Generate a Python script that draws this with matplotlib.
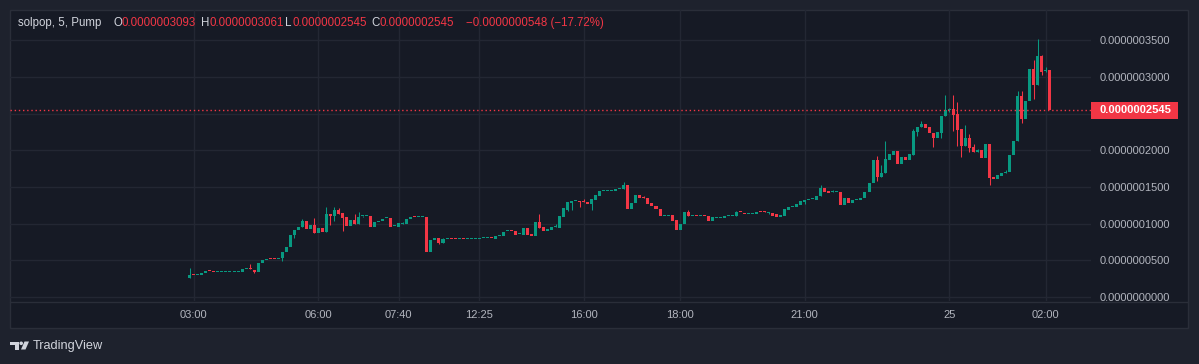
import matplotlib
matplotlib.use("Agg")
import matplotlib.pyplot as plt
from matplotlib.patches import Rectangle, Polygon, Circle
from matplotlib.ticker import FixedLocator, FuncFormatter

# ---------------- data (prices in units of 1e-7) ----------------
opens = [
    .265, .302, .30, .30, .33, .362, .355, .335, .335, .335,
    .335, .335, .335, .337, .377, .379, .37, .345, .46, .50,
    .515, .515, .512, .53, .61, .68, .85, .91, .95, 1.035,
    .93, .98, .87, .94, .885, 1.13, 1.11, 1.185, 1.145, 1.09,
    .97, 1.05, .995, 1.097, 1.10, 1.10, .955, 1.025, 1.03, 1.072,
    1.076, .965, .955, 1.0, .995, 1.06, 1.088, 1.085, 1.085, 1.09,
    .61, .775, .80, .74, .788, .79, .79, .788, .79, .788,
    .788, .788, .788, .798, .798, .80, .785, .83, .825, .893,
    .895, .90, .853, .845, .94, .86, .83, 1.02, .955, .90,
    .915, .952, .94, 1.09, 1.19, 1.28, 1.308, 1.31, 1.305, 1.29,
    1.27, 1.325, 1.38, 1.443, 1.443, 1.443, 1.44, 1.468, 1.465, 1.525,
    1.20, 1.28, 1.39, 1.355, 1.35, 1.28, 1.245, 1.205, 1.108, 1.108,
    1.115, 1.045, .91, .99, 1.16, 1.108, 1.11, 1.108, 1.11, 1.11,
    1.04, 1.083, 1.083, 1.083, 1.108, 1.108, 1.11, 1.157, 1.145, 1.125,
    1.125, 1.125, 1.157, 1.157, 1.143, 1.145, 1.13, 1.09, 1.10, 1.19,
    1.223, 1.225, 1.26, 1.30, 1.318, 1.333, 1.325, 1.37, 1.49, 1.45,
    1.428, 1.428, 1.435, 1.25, 1.35, 1.28, 1.318, 1.315, 1.345, 1.43,
    1.55, 1.87, 1.64, 1.685, 1.87, 1.94, 1.99, 1.815, 1.91, 1.865,
    1.94, 2.25, 2.31, 2.36, 2.32, 2.24, 2.17, 2.24, 2.46, 2.548,
    2.56, 2.49, 2.29, 2.06, 2.17, 2.04, 1.975, 2.00, 1.89, 2.08,
    1.635, 1.61, 1.65, 1.69, 1.70, 1.93, 2.12, 2.74, 2.425, 2.67,
    3.105, 2.89, 3.28, 3.085, 3.093,
]
closes = [
    .30, .30, .302, .33, .36, .36, .335, .337, .337, .337,
    .337, .337, .337, .378, .379, .377, .345, .46, .50, .52,
    .513, .512, .535, .61, .68, .85, .91, .95, 1.035, .93,
    .98, .87, .94, .885, 1.13, 1.11, 1.185, 1.13, 1.08, .97,
    1.05, .995, 1.094, 1.10, 1.102, .96, 1.02, 1.03, 1.06, 1.076,
    .96, .968, 1.01, 1.003, 1.06, 1.09, 1.085, 1.088, 1.088, .61,
    .78, .80, .74, .79, .79, .788, .788, .79, .788, .79,
    .79, .79, .79, .80, .80, .798, .83, .832, .885, .895,
    .893, .845, .855, .94, .845, .83, 1.02, .935, .90, .925,
    .955, .955, 1.10, 1.21, 1.29, 1.31, 1.31, 1.30, 1.297, 1.27,
    1.335, 1.39, 1.445, 1.446, 1.446, 1.446, 1.47, 1.47, 1.525, 1.20,
    1.28, 1.39, 1.35, 1.345, 1.27, 1.24, 1.20, 1.11, 1.11, 1.11,
    1.04, .91, .995, 1.16, 1.105, 1.11, 1.108, 1.11, 1.108, 1.035,
    1.085, 1.086, 1.086, 1.10, 1.11, 1.11, 1.155, 1.154, 1.125, 1.128,
    1.128, 1.155, 1.154, 1.154, 1.146, 1.11, 1.09, 1.12, 1.20, 1.225,
    1.226, 1.27, 1.31, 1.325, 1.32, 1.336, 1.38, 1.49, 1.43, 1.42,
    1.431, 1.431, 1.25, 1.35, 1.28, 1.32, 1.321, 1.35, 1.435, 1.555,
    1.87, 1.64, 1.685, 1.88, 1.95, 1.99, 1.815, 1.91, 1.865, 1.95,
    2.26, 2.32, 2.36, 2.30, 2.235, 2.17, 2.25, 2.47, 2.55, 2.552,
    2.48, 2.275, 2.06, 2.17, 2.03, 1.975, 2.00, 1.89, 2.08, 1.62,
    1.61, 1.66, 1.69, 1.70, 1.935, 2.125, 2.74, 2.425, 2.67, 3.105,
    2.89, 3.28, 3.065, 3.093, 2.545,
]
# wick extremes beyond the body (bar index -> price); others have no wick
wick_highs = {
    0: .395, 15: .45, 28: 1.06, 31: 1.08, 34: 1.23, 36: 1.23, 37: 1.21,
    41: 1.13, 42: 1.16, 53: 1.02, 63: .805, 87: 1.13, 91: 1.0, 98: 1.335,
    108: 1.565, 113: 1.37, 124: 1.19, 136: 1.17, 143: 1.17, 144: 1.156,
    157: 1.52, 160: 1.46, 171: 1.92, 172: 1.80, 173: 2.125, 180: 2.29,
    182: 2.40, 188: 2.75, 189: 2.58, 190: 2.75, 191: 2.66, 193: 2.34,
    194: 2.22, 195: 2.09, 196: 2.01, 203: 1.73, 206: 2.81, 207: 2.80,
    210: 3.23, 211: 3.515, 212: 3.295, 213: 3.13,
}
wick_lows = {
    16: .33, 23: .495, 26: .81, 35: .98, 36: 1.03, 38: .90, 43: 1.085,
    53: .99, 62: .72, 94: 1.175, 95: 1.19, 97: 1.22, 100: 1.18, 144: 1.135,
    153: 1.27, 171: 1.585, 181: 2.19, 185: 2.04, 187: 2.17, 189: 2.52,
    190: 2.26, 191: 2.06, 192: 1.91, 194: 1.975, 199: 1.525, 207: 2.37,
    210: 2.70, 212: 3.03, 213: 3.06,
}
tick_bars = [1, 32, 52, 72, 98, 122, 153, 189, 213]
tick_labels = ["03:00", "06:00", "07:40", "12:25", "16:00", "18:00", "21:00", "25", "02:00"]
price_ticks = [0.0, 0.5, 1.0, 1.5, 2.0, 2.5, 3.0, 3.5]
hidden_price_labels = [2.5]   # covered by the last-price badge
last_price = 2.545
header_name = "solpop, 5, Pump"
header_ohlc = [("O", "0.0000003093"), ("H", "0.0000003061"), ("L", "0.0000002545"), ("C", "0.0000002545")]
header_change = "\u22120.0000000548 (\u221217.72%)"

# ---------------- style ----------------
W, H = 1199, 364
OUTER = "#1e222d"
PANEL = "#161a25"
BORDER = "#2a2e39"
GRID = "#232733"
TEXT = "#b2b5be"
HEAD = "#d1d4dc"
UP = "#089981"
DOWN = "#f23645"
FONT = ["Liberation Sans", "DejaVu Sans"]
plt.rcParams["font.family"] = FONT

fig = plt.figure(figsize=(W / 100, H / 100), dpi=100, facecolor=OUTER)

def fx(px):
    return px / W

def fy(py):
    return 1 - py / H

# background panel
bg = fig.add_axes([0, 0, 1, 1], zorder=0)
bg.set_xlim(0, W); bg.set_ylim(H, 0); bg.axis("off")
bg.add_patch(Rectangle((10, 10), 1178, 318, facecolor=PANEL, edgecolor=BORDER, lw=1))
bg.plot([10, 1188], [301.5, 301.5], color=BORDER, lw=1)

# main axes
ax_l, ax_r, ax_t, ax_b = 10, 1091, 10, 301
ax = fig.add_axes([fx(ax_l), fy(ax_b), fx(ax_r - ax_l), (ax_b - ax_t) / H], zorder=1)
ax.set_facecolor("none")
for s in ax.spines.values():
    s.set_visible(False)

x0_px, step_px = 189.8, 4.019
ax.set_xlim((ax_l - x0_px) / step_px, (ax_r - x0_px) / step_px)
ppu = 73.4
ax.set_ylim((297 - ax_b) / ppu, (297 - ax_t) / ppu)

min_h = 1.0 / ppu
body_w = 0.75
for i, (o, c) in enumerate(zip(opens, closes)):
    col = UP if c >= o else DOWN
    lo, hi = min(o, c), max(o, c)
    hw = wick_highs.get(i, hi)
    lw_ = wick_lows.get(i, lo)
    if hw > hi or lw_ < lo:
        ax.vlines(i, lw_, hw, color=col, lw=0.75, zorder=3)
    h = max(hi - lo, min_h)
    ax.add_patch(Rectangle((i - body_w / 2, lo), body_w, h, facecolor=col, edgecolor="none", zorder=4))

ax.grid(True, color=GRID, lw=1)
ax.set_axisbelow(True)
ax.xaxis.set_major_locator(FixedLocator(tick_bars))
ax.set_xticklabels(tick_labels)
ax.yaxis.tick_right()
ax.yaxis.set_major_locator(FixedLocator(price_ticks))
ax.yaxis.set_major_formatter(FuncFormatter(
    lambda v, p: "" if any(abs(v - h) < 1e-9 for h in hidden_price_labels) else f"{v * 1e-7:.10f}"))
ax.tick_params(axis="both", length=0, colors=TEXT, labelsize=8)
ax.tick_params(axis="y", pad=6)
ax.tick_params(axis="x", pad=6.5)

# last price dotted line
ax.axhline(last_price, color=DOWN, lw=1, ls=(0, (1, 2)), zorder=5)

# overlay for labels
ov = fig.add_axes([0, 0, 1, 1], zorder=3)
ov.set_xlim(0, W); ov.set_ylim(H, 0); ov.axis("off")

py = 297 - last_price * ppu
ov.add_patch(Rectangle((1091, py - 8.5), 87, 17, facecolor=DOWN, edgecolor="none"))
ov.text(1099, py, f"{last_price * 1e-7:.10f}", color="white", fontsize=8, fontweight="bold",
        va="center", ha="left")

hy = 23
ov.text(18, hy, header_name, color=HEAD, fontsize=8.3, va="center", ha="left")
letter_x = [113, 201, 285.5, 371]
value_x = [121.5, 209, 292.5, 379.5]
for (lab, val), lx, vx in zip(header_ohlc, letter_x, value_x):
    ov.text(lx, hy, lab, color=HEAD, fontsize=8.3, va="center", ha="left")
    ov.text(vx, hy, val, color=DOWN, fontsize=8.3, va="center", ha="left")
ov.text(466, hy, header_change, color=DOWN, fontsize=8.3, va="center", ha="left")

# TradingView logo + wordmark
ov.add_patch(Polygon([(10, 341.5), (18.5, 341.5), (18.5, 349.5), (15, 349.5), (15, 345), (10, 345)],
                     closed=True, facecolor=HEAD, edgecolor="none"))
ov.add_patch(Circle((21.2, 343.3), 1.8, facecolor=HEAD, edgecolor="none"))
ov.add_patch(Polygon([(24.5, 341.5), (29, 341.5), (25.5, 349.5), (21, 349.5)],
                     closed=True, facecolor=HEAD, edgecolor="none"))
ov.text(33, 346, "TradingView", color=HEAD, fontsize=9.2, va="center", ha="left")

fig.savefig("out.png", dpi=100, facecolor=OUTER)
